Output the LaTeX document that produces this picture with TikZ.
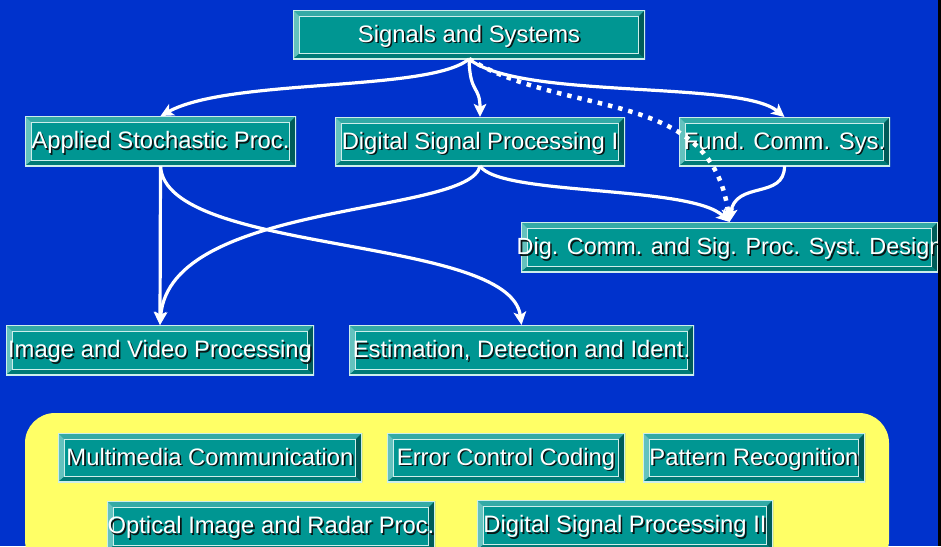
\documentclass[tikz,border=0pt]{standalone}
\usepackage{fontspec}
\setmainfont{Liberation Sans}
\usetikzlibrary{arrows.meta}

\definecolor{bgblue}{RGB}{0,50,204}
\definecolor{panelyellow}{RGB}{255,255,102}
\definecolor{facec}{RGB}{0,150,146}
\definecolor{bevtopc}{RGB}{51,170,166}
\definecolor{bevleftc}{RGB}{100,194,190}
\definecolor{bevrightc}{RGB}{0,92,89}
\definecolor{bevbotc}{RGB}{0,122,118}
\definecolor{bevlinec}{RGB}{205,238,235}
\definecolor{txtshadow}{RGB}{10,20,20}

% white label with a small dark drop shadow; zero size so the box keeps its
% dimensions, baseline set just below the middle so capitals sit centred
\newcommand\shtxt[1]{\raisebox{-7.5pt}[0pt][0pt]{\makebox[0pt]{\rlap{\kern1.6pt\raisebox{-1.6pt}{\color{txtshadow}#1}}\color{white}#1}}}

\tikzset{
  bevbox/.style={rectangle, inner sep=0pt, outer sep=0pt, fill=facec,
    font=\fontsize{23.8}{28}\selectfont,
    path picture={
      \path (path picture bounding box.north west) coordinate (bNW)
            (path picture bounding box.north east) coordinate (bNE)
            (path picture bounding box.south west) coordinate (bSW)
            (path picture bounding box.south east) coordinate (bSE);
      \path ([shift={(6.5pt,-6.5pt)}]bNW) coordinate (iNW)
            ([shift={(-6.5pt,-6.5pt)}]bNE) coordinate (iNE)
            ([shift={(6.5pt,5.5pt)}]bSW) coordinate (iSW)
            ([shift={(-6.5pt,5.5pt)}]bSE) coordinate (iSE);
      \fill[bevtopc] (bNW) -- (bNE) -- (iNE) -- (iNW) -- cycle;
      \fill[bevleftc] (bNW) -- (iNW) -- (iSW) -- (bSW) -- cycle;
      \fill[bevrightc] (bNE) -- (bSE) -- (iSE) -- (iNE) -- cycle;
      \fill[bevbotc] (bSW) -- (iSW) -- (iSE) -- (bSE) -- cycle;
      \draw[bevlinec, line width=0.9pt] (iNW) rectangle (iSE);
      \draw[bevlinec, line width=1.4pt] (bNW) rectangle (bSE);
    }},
  link/.style={draw=white, line width=3.2pt,
    -{Stealth[length=13pt,width=12.5pt,inset=3pt]}},
  dotlink/.style={link, line width=4.5pt, line cap=butt,
    dash pattern=on 4.5pt off 6pt},
}

\begin{document}
\begin{tikzpicture}[x=1pt,y=-1pt]
  \useasboundingbox (0,0) rectangle (941,546);
  \clip (0,0) rectangle (941,546);
  \fill[bgblue] (0,0) rectangle (941,546);

  % elective courses panel
  \fill[panelyellow, rounded corners=30pt] (25,413) rectangle (889,570);

  % core course boxes
  \node[bevbox, minimum width=352pt, minimum height=49pt] (sig) at (469,34.5) {\shtxt{Signals and Systems}};
  \node[bevbox, minimum width=271pt, minimum height=50pt] (asp) at (160.5,141) {\shtxt{Applied Stochastic Proc.}};
  \node[bevbox, minimum width=290pt, minimum height=49pt] (dsp) at (480,141.5) {\shtxt{Digital Signal Processing I}};
  \node[bevbox, minimum width=211pt, minimum height=49pt] (fund) at (784.5,141.5) {\shtxt{Fund. Comm. Sys.}};
  \node[bevbox, minimum width=417pt, minimum height=50pt, font=\fontsize{23.4}{28}\selectfont] (dcs) at (729.5,247) {\shtxt{Dig. Comm. and Sig. Proc. Syst. Design}};
  \node[bevbox, minimum width=308pt, minimum height=50pt] (ivp) at (160,350) {\shtxt{Image and Video Processing}};
  \node[bevbox, minimum width=345pt, minimum height=50pt] (est) at (521.5,350) {\shtxt{Estimation, Detection and Ident.}};

  % electives
  \node[bevbox, minimum width=304pt, minimum height=49pt] (mmc) at (210,457.5) {\shtxt{Multimedia Communication}};
  \node[bevbox, minimum width=238pt, minimum height=49pt] (ecc) at (506,457.5) {\shtxt{Error Control Coding}};
  \node[bevbox, minimum width=222pt, minimum height=49pt] (pr) at (754,457.5) {\shtxt{Pattern Recognition}};
  \node[bevbox, minimum width=328pt, minimum height=50pt] (oir) at (271,526) {\shtxt{Optical Image and Radar Proc.}};
  \node[bevbox, minimum width=296pt, minimum height=50pt] (dsptwo) at (625,525) {\shtxt{Digital Signal Processing II}};

  % prerequisite connectors
  \draw[link] (sig.south) .. controls +(-39,33) and +(69.5,-38) .. (asp.north);
  \draw[link] (sig.south) .. controls +(1,36) and +(0,-32) .. (dsp.north);
  \draw[link] (sig.south) .. controls +(51,41) and +(-44.5,-37) .. (fund.north);
  \draw[dotlink] (sig.south) .. controls +(100,60) and +(-18,-135) .. (dcs.north);
  \draw[link] (fund.south) .. controls +(0,34) and +(5.5,-42) .. (dcs.north);
  \draw[link] (dsp.south) .. controls +(20,30) and +(-39.5,-37) .. (dcs.north);
  \draw[link] (dsp.south) .. controls +(-10,50) and +(10,-125) .. (ivp.north);
  \draw[link] (asp.south) -- (ivp.north);
  \draw[link] (asp.south) .. controls +(4.5,89) and +(-11.5,-90) .. (est.north);

  % dark strip along the right edge
  \fill[black] (938,0) rectangle (941,546);
\end{tikzpicture}
\end{document}
